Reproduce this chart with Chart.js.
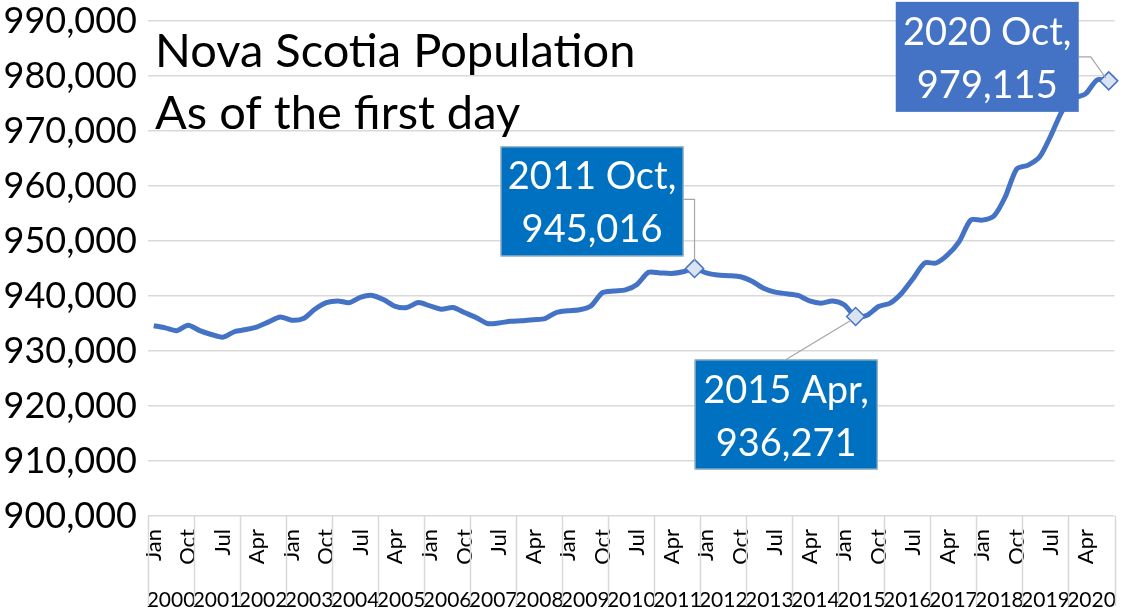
<!DOCTYPE html>
<html>
<head>
<meta charset="utf-8">
<script src="https://cdn.jsdelivr.net/npm/chart.js@4.4.1/dist/chart.umd.min.js"></script>
<style>
  html, body { margin: 0; padding: 0; background: #fff; }
  #wrap { width: 1125px; height: 612px; }
</style>
</head>
<body>
<div id="wrap"><canvas id="chart"></canvas></div>
<script>
var years = ['2000','2001','2002','2003','2004','2005','2006','2007','2008','2009','2010',
             '2011','2012','2013','2014','2015','2016','2017','2018','2019','2020'];
var months = ['Jan','Apr','Jul','Oct'];

// population on the first day of each quarter, Jan 2000 .. Oct 2020
var population = [
  934600, 934200, 933700, 934700, 933700, 933000, 932500, 933500,
  933900, 934400, 935300, 936200, 935600, 935900, 937600, 938800,
  939100, 938800, 939800, 940100, 939300, 938100, 937900, 938800,
  938200, 937600, 937900, 937000, 936100, 935000, 935100, 935400,
  935500, 935700, 935900, 937000, 937300, 937500, 938200, 940600,
  940900, 941100, 942100, 944300, 944200, 944100, 944400, 945016,
  944200, 943800, 943700, 943500, 942700, 941400, 940700, 940400,
  940100, 939100, 938700, 939100, 938400, 936271, 936500, 938100,
  938700, 940500, 943200, 946000, 946000, 947500, 949900, 953800,
  953800, 954500, 958000, 963100, 963800, 965300, 969300, 973800,
  975900, 976800, 979300, 979115
];

var yTicks = [900000, 910000, 920000, 930000, 940000, 950000, 960000, 970000, 980000, 990000];
var titleLines = ['Nova Scotia Population', 'As of the first day'];
var callouts = [47, 61, 83];

var quarterLabels = [];
var quarterYears = [];
years.forEach(function(y) {
  months.forEach(function(m) {
    quarterLabels.push(m);
    quarterYears.push(y);
  });
});

var FONT = 'Lato';
var fmt = function(v) { return v.toLocaleString('en-US'); };
var noSidePad = function(s) { s.paddingLeft = 0; s.paddingRight = 0; };

var calloutPlugin = {
  id: 'callouts',
  afterDraw: function(chart) {
    var ctx = chart.ctx;
    var x = chart.scales.x, y = chart.scales.y;
    var area = chart.chartArea;

    // separators in the category label area
    ctx.save();
    ctx.strokeStyle = '#d9d9d9';
    ctx.lineWidth = 1.5;
    for (var k = 0; k <= years.length; k++) {
      var px = Math.round(x.getPixelForValue(k * 4 - 0.5)) + 0.5;
      ctx.beginPath();
      ctx.moveTo(px, area.bottom);
      ctx.lineTo(px, chart.height - 6);
      ctx.stroke();
    }
    ctx.restore();

    // title text inside the plot
    ctx.save();
    ctx.fillStyle = '#000';
    ctx.font = '47px ' + FONT;
    ctx.textBaseline = 'alphabetic';
    ctx.fillText(titleLines[0], 155, 67);
    ctx.fillText(titleLines[1], 155, 129);
    ctx.restore();

    // data label boxes
    callouts.forEach(function(idx, n) {
      var mx = x.getPixelForValue(idx);
      var my = y.getPixelForValue(population[idx]);
      var w = 183, h = 110, bx, by, fill, leader;
      if (n === 0) {
        bx = mx - 11 - w; by = my - 12 - h; fill = '#0070C0';
        leader = [[bx + w, by + 53], [mx, by + 53], [mx, my - 7]];
      } else if (n === 1) {
        bx = mx - 161; by = my + 43; fill = '#0070C0';
        leader = [[bx + w / 2, by], [mx - 5, my + 4]];
      } else {
        bx = mx - 213; by = my - 79; fill = '#4472C4';
        leader = [[bx + w, by + 55], [bx + w + 12, by + 55], [mx - 3, my - 3]];
      }
      ctx.save();
      ctx.strokeStyle = '#a6a6a6';
      ctx.lineWidth = 1.2;
      ctx.beginPath();
      ctx.moveTo(leader[0][0], leader[0][1]);
      for (var j = 1; j < leader.length; j++) ctx.lineTo(leader[j][0], leader[j][1]);
      ctx.stroke();

      ctx.fillStyle = fill;
      ctx.fillRect(bx, by, w, h);
      if (n < 2) {
        ctx.strokeStyle = '#bfbfbf';
        ctx.lineWidth = 1;
        ctx.strokeRect(bx + 0.5, by + 0.5, w - 1, h - 1);
      }
      ctx.fillStyle = '#fff';
      ctx.font = '38px ' + FONT;
      ctx.textAlign = 'center';
      ctx.textBaseline = 'alphabetic';
      ctx.fillText(quarterYears[idx] + ' ' + quarterLabels[idx] + ',', bx + w / 2, by + 43);
      ctx.fillText(fmt(population[idx]), bx + w / 2, by + 96);
      ctx.restore();
    });
  }
};

var ctx = document.getElementById('chart').getContext('2d');
var chart = new Chart(ctx, {
  type: 'line',
  data: {
    labels: quarterLabels,
    datasets: [{
      data: population,
      borderColor: '#4472C4',
      borderWidth: 5,
      tension: 0.25,
      fill: false,
      pointStyle: 'rectRot',
      pointRadius: function(c) { return callouts.indexOf(c.dataIndex) >= 0 ? 9 : 0; },
      pointBackgroundColor: '#dae3f3',
      pointBorderColor: '#4472C4',
      pointBorderWidth: 1.5,
      pointHoverRadius: 0
    }]
  },
  options: {
    responsive: true,
    maintainAspectRatio: false,
    animation: false,
    layout: { padding: { top: 0, right: 7, bottom: 0, left: 0 } },
    plugins: {
      legend: { display: false },
      tooltip: { enabled: false },
      title: { display: false }
    },
    scales: {
      y: {
        min: 900000,
        max: 990000,
        afterBuildTicks: function(s) { s.ticks = yTicks.map(function(v) { return { value: v }; }); },
        afterFit: function(s) { s.width = 148; s.paddingTop = 21; s.paddingBottom = 0; },
        border: { display: false },
        grid: { color: '#d9d9d9', lineWidth: 1.5, drawTicks: false },
        ticks: {
          padding: 11,
          color: '#000',
          font: { family: FONT, size: 36 },
          callback: function(v) { return fmt(v); }
        }
      },
      x: {
        offset: true,
        weight: 1,
        border: { display: false },
        grid: { display: false, drawTicks: false },
        afterFit: function(s) { s.height = 54; noSidePad(s); },
        ticks: {
          autoSkip: false,
          minRotation: 90,
          maxRotation: 90,
          padding: 13,
          color: '#000',
          font: { family: FONT, size: 22 },
          callback: function(v, i) { return i % 3 === 0 ? quarterLabels[i] : ''; }
        }
      },
      x2: {
        type: 'category',
        labels: years,
        position: 'bottom',
        offset: true,
        weight: 2,
        border: { display: false },
        grid: { display: false, drawTicks: false },
        afterFit: function(s) { s.height = 42; noSidePad(s); },
        ticks: {
          autoSkip: false,
          minRotation: 0,
          maxRotation: 0,
          padding: 18,
          color: '#000',
          font: { family: FONT, size: 21 }
        }
      }
    }
  },
  plugins: [calloutPlugin]
});
</script>
</body>
</html>
